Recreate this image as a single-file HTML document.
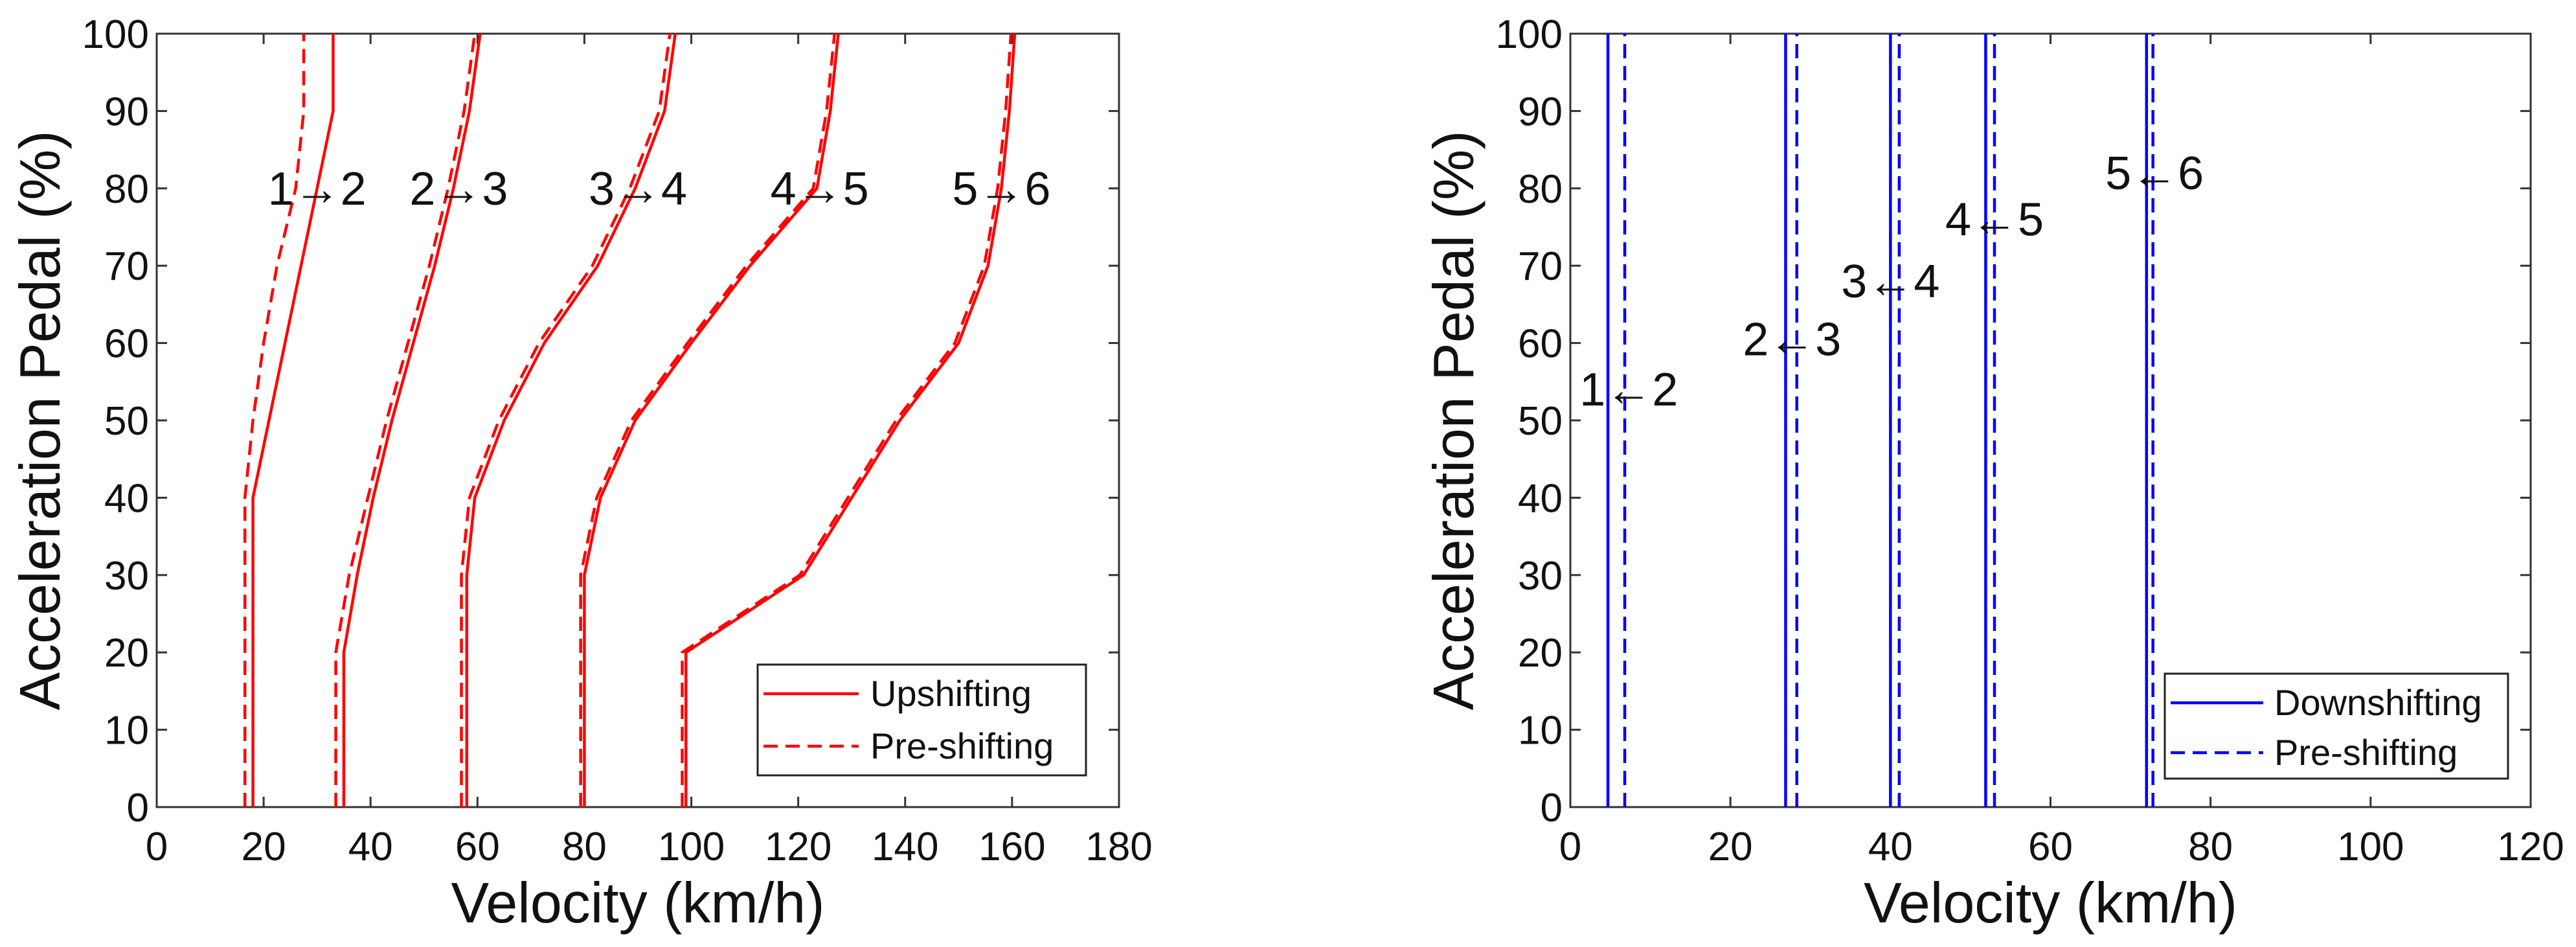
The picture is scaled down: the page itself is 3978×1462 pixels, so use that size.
<!DOCTYPE html>
<html><head><meta charset="utf-8"><style>
html,body{margin:0;padding:0;background:#fff;}
svg{display:block;font-family:"Liberation Sans",Arial,sans-serif;}
</style></head><body>
<svg id="chart" width="3978" height="1462" viewBox="0 0 3978 1462" xmlns="http://www.w3.org/2000/svg"></svg>
<script>
// ---- Left chart data (upshifting) ----
const upLabels = ["1→2","2→3","3→4","4→5","5→6"];
const upLabelX = [30,56.5,90,124,158];
const upPedal = [0,20,30,40,50,60,70,80,90,100];
const up12 = [18,18,18,18,21,24,27,30,33,33];
const up23 = [35,35,37.5,40.5,44,48,52,55.5,58.5,60.5];
const up34 = [58,58,58,59.5,65,72.5,82.5,89.5,95,97];
const up45 = [80,80,80,83,89.5,100,111,123.5,126,127.5];
const up56 = [99,99,121,130,139,150,155.5,158,159.5,160.5];
const pre12 = [16.5,16.5,16.5,16.5,18,20,22.5,26,27.5,27.5];
const pre23 = [33.5,33.5,36,39.5,43,47,51,54.5,57.5,59.5];
const pre34 = [57,57,57,58.5,64,71.5,81.5,88.5,94,96];
const pre45 = [79.3,79.3,79.3,82.3,88.8,99.3,110.3,122.8,125.3,126.8];
const pre56 = [98.3,98.3,120.3,129.3,138.3,149.3,154.8,157.3,158.8,159.8];
const leftXTicks = [0,20,40,60,80,100,120,140,160,180];
const yTicks = [0,10,20,30,40,50,60,70,80,90,100];
// ---- Right chart data (downshifting) ----
const downLabels = ["1←2","2←3","3←4","4←5","5←6"];
const downLabelX = [7.3,27.7,40,53,73];
const downLabelY = [54,60.5,68,76,82];
const downV = [4.7,26.9,40,51.9,72];
const downPreV = [6.8,28.3,41.1,53,72.8];
const rightXTicks = [0,20,40,60,80,100,120];

const NS="http://www.w3.org/2000/svg";
const svg=document.getElementById('chart');
function mk(tag,attrs,parent,text){const e=document.createElementNS(NS,tag);for(const k in attrs)e.setAttribute(k,attrs[k]);if(text!==undefined)e.textContent=text;(parent||svg).appendChild(e);return e;}

function axes(g,x0,x1,y0,y1,xmax,xt,prefix){
  const sx=v=>x0+(v/xmax)*(x1-x0), sy=v=>y1-(v/100)*(y1-y0);
  const frame=mk('rect',{x:x0,y:y0,width:x1-x0,height:y1-y0,fill:'none',stroke:'#333',"stroke-width":3},g);
  
  
  xt.forEach(t=>{const x=sx(t);
    mk('line',{x1:x,x2:x,y1:y1,y2:y1-16,stroke:'#333',"stroke-width":3},g);
    mk('line',{x1:x,x2:x,y1:y0,y2:y0+16,stroke:'#333',"stroke-width":3},g);
    const tl=mk('text',{x:x,y:y1+82,"font-size":62,"text-anchor":"middle",fill:'#111'},g,String(t));
    
    
  });
  yTicks.forEach(t=>{const y=sy(t);
    mk('line',{x1:x0,x2:x0+16,y1:y,y2:y,stroke:'#333',"stroke-width":3},g);
    mk('line',{x1:x1,x2:x1-16,y1:y,y2:y,stroke:'#333',"stroke-width":3},g);
    const tl=mk('text',{x:x0-12,y:y+22,"font-size":62,"text-anchor":"end",fill:'#111'},g,String(t));
    
    
  });
  const xtl=mk('text',{x:(x0+x1)/2,y:y1+178,"font-size":88,"text-anchor":"middle",fill:'#111'},g,'Velocity (km/h)');
  
  
  const yx=x0-150, yc=(y0+y1)/2;
  const ytl=mk('text',{x:yx,y:yc,"font-size":88,"text-anchor":"middle",fill:'#111',transform:`rotate(-90 ${yx} ${yc})`},g,'Acceleration Pedal (%)');
  
  
  return {sx,sy};
}

const gl=mk('g',{});


const L=axes(gl,242,1728,52,1246,180,leftXTicks,'upshift');
function poly(g,xs,ys,sc,color,dash,name){
  const pts=xs.map((v,i)=>sc.sx(v)+','+sc.sy(ys[i])).join(' ');
  const p=mk('polyline',{points:pts,fill:'none',stroke:color,"stroke-width":4.5,"stroke-dasharray":dash?'22 12':'none'},g);
  
  
}
[pre12,pre23,pre34,pre45,pre56].forEach((s,i)=>poly(gl,s,upPedal,L,'#f00',true,'preshift-curve-'+(i+1)));
[up12,up23,up34,up45,up56].forEach((s,i)=>poly(gl,s,upPedal,L,'#f00',false,'upshift-curve-'+(i+1)));
upLabels.forEach((t,i)=>{const e=mk('text',{x:L.sx(upLabelX[i]),y:L.sy(80)+25,"font-size":72,"text-anchor":"middle",fill:'#111'},gl,t);
  
  });
const lg=mk('g',{},gl);


mk('rect',{x:1170,y:1026,width:507,height:171,fill:'#fff',stroke:'#222',"stroke-width":3},lg);
mk('line',{x1:1179,x2:1326,y1:1071,y2:1071,stroke:'#f00',"stroke-width":4.5},lg);
mk('line',{x1:1179,x2:1326,y1:1152,y2:1152,stroke:'#f00',"stroke-width":4.5,"stroke-dasharray":'22 12'},lg);
mk('text',{x:1344,y:1090,"font-size":56,fill:'#111'},lg,'Upshifting');
mk('text',{x:1344,y:1171,"font-size":56,fill:'#111'},lg,'Pre-shifting');

const gr=mk('g',{});


const R=axes(gr,2425,3908,52,1246,120,rightXTicks,'downshift');
downPreV.forEach((v,i)=>poly(gr,[v,v],[0,100],R,'#00f',true,'downshift-preshift-line-'+(i+1)));
downV.forEach((v,i)=>poly(gr,[v,v],[0,100],R,'#00f',false,'downshift-line-'+(i+1)));
downLabels.forEach((t,i)=>{const e=mk('text',{x:R.sx(downLabelX[i]),y:R.sy(downLabelY[i])+25,"font-size":72,"text-anchor":"middle",fill:'#111'},gr,t);
  
  });
const rg=mk('g',{},gr);


mk('rect',{x:3343,y:1040,width:530,height:162,fill:'#fff',stroke:'#222',"stroke-width":3},rg);
mk('line',{x1:3352,x2:3495,y1:1085,y2:1085,stroke:'#00f',"stroke-width":4.5},rg);
mk('line',{x1:3352,x2:3495,y1:1162,y2:1162,stroke:'#00f',"stroke-width":4.5,"stroke-dasharray":'22 12'},rg);
mk('text',{x:3512,y:1104,"font-size":56,fill:'#111'},rg,'Downshifting');
mk('text',{x:3512,y:1181,"font-size":56,fill:'#111'},rg,'Pre-shifting');
</script>
</body></html>
